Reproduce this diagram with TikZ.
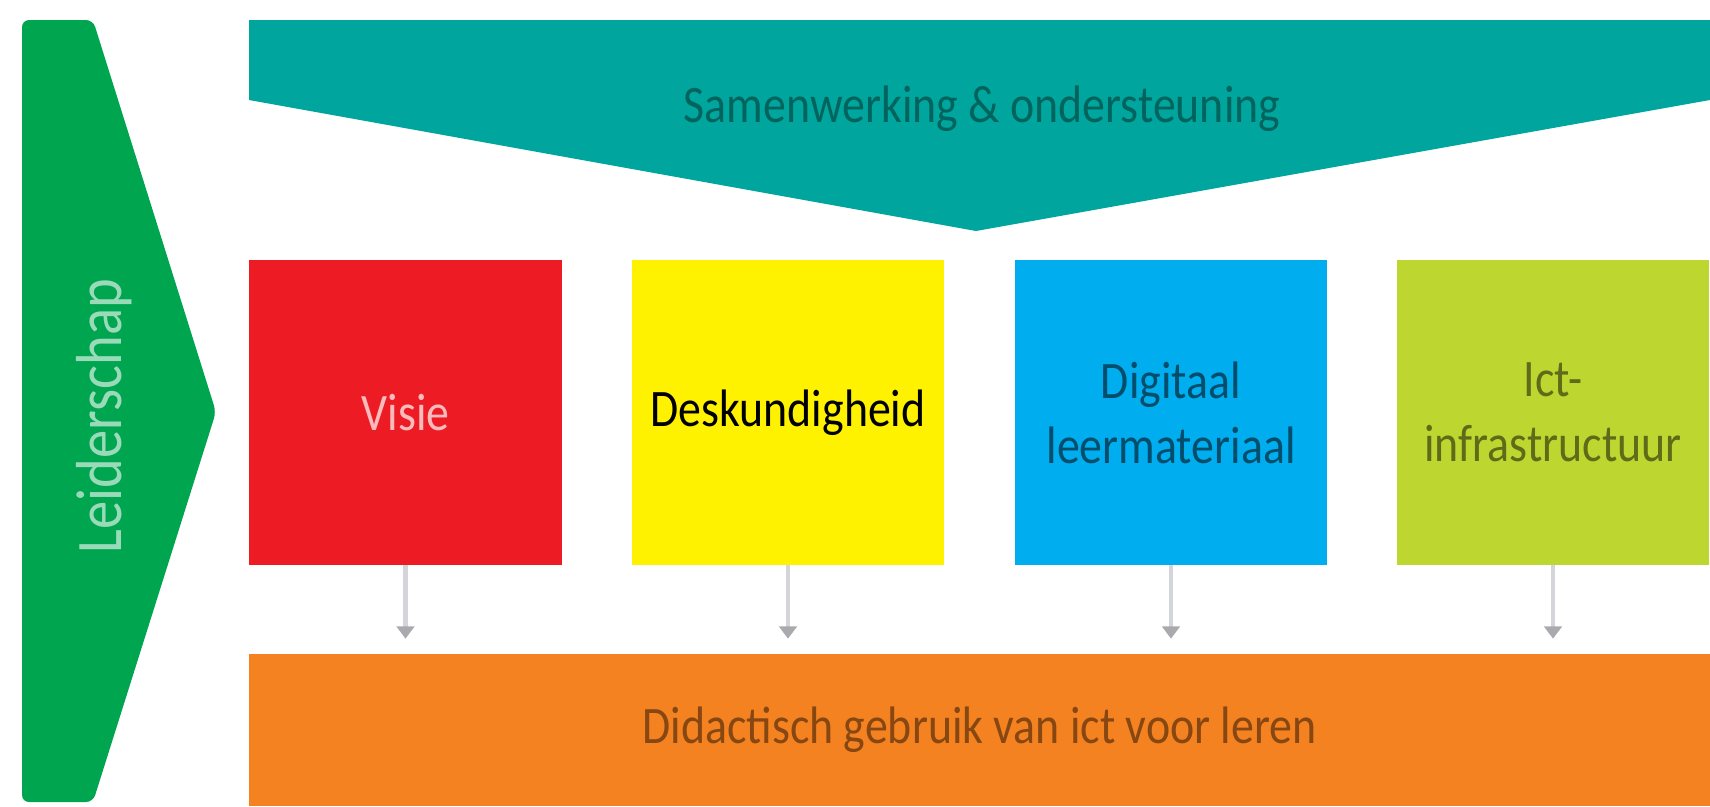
\documentclass[tikz,border=0pt]{standalone}
\usepackage{fontspec}
\setmainfont{Carlito}[FakeStretch=0.87]
\usetikzlibrary{arrows.meta, positioning}

\definecolor{leidgreen}{RGB}{0,165,80}
\definecolor{samteal}{RGB}{0,166,157}
\definecolor{visred}{RGB}{237,28,36}
\definecolor{deskyellow}{RGB}{255,242,0}
\definecolor{digblue}{RGB}{0,174,239}
\definecolor{ictlime}{RGB}{190,214,48}
\definecolor{didorange}{RGB}{245,130,32}
\definecolor{arrgrey}{RGB}{212,213,218}

\begin{document}
\begin{tikzpicture}[
    x=0.02cm, y=-0.02cm,
    label/.style={font=\fontsize{30}{37}\selectfont, align=center},
    block/.style={rectangle, minimum width=6.26cm, minimum height=6.1cm, label, inner sep=0pt},
    arr/.style={arrgrey, line width=2.4pt, -{Triangle[length=7pt,width=10pt,color=arrgrey!80!black]}, shorten >=0.3cm}
]
    \useasboundingbox (0,0) rectangle (1710,806);

    % Leiderschap
    \fill[leidgreen, rounded corners=4pt] (22,20) -- (93,20) -- (216,412) -- (93,802) -- (22,802) -- cycle;
    \node[label, font=\fontsize{37}{40}\selectfont, rotate=90, text=leidgreen!40!white] (leid) at (104,416) {Leiderschap};

    % Samenwerking
    \fill[samteal] (249,20) -- (1710,20) -- (1710,100) -- (976,231) -- (249,100) -- cycle;
    \node[label, text=samteal!60!black] (samen) at (982,109) {Samenwerking \& ondersteuning};

    % Bouwstenen
    \node[block, fill=visred, text=visred!30!white] (visie) at (405.5,412.5) {Visie};
    \node[block, fill=deskyellow, text=black] (desk) at (788,412.5) {Deskundigheid};
    \node[block, fill=digblue, text=digblue!45!black] (digi) at (1171,412.5) {Digitaal\\leermateriaal};
    \node[block, fill=ictlime, text=ictlime!50!black] (ict) at (1553,412.5) {Ict-\\infrastructuur};

    % Didactiek
    \node[rectangle, fill=didorange, minimum width=29.22cm, minimum height=3.04cm, label,
          text=didorange!55!black] (didac) at (979.5,730) {Didactisch gebruik van ict voor leren};

    \foreach \b in {visie, desk, digi, ict} {
        \draw[arr] (\b.south) -- (\b.south |- didac.north);
    }
\end{tikzpicture}
\end{document}
